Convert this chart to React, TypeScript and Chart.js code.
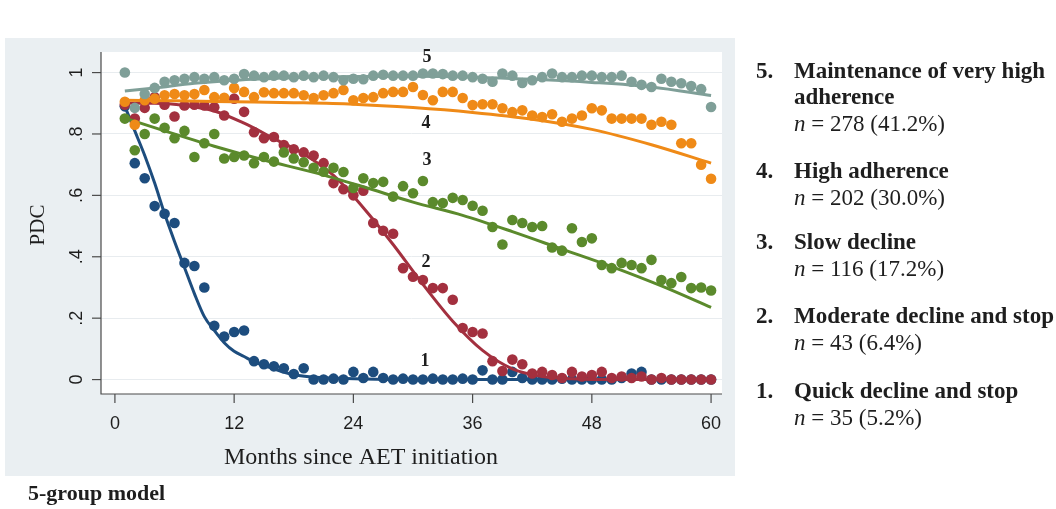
import React, { useEffect, useRef } from "react";
import { Chart, registerables } from "chart.js";

Chart.register(...registerables);

// Months since AET initiation at which the observed mean PDC is plotted
const months = [
  1, 2, 3, 4, 5, 6, 7, 8, 9, 10, 11, 12, 13, 14, 15, 16, 17, 18, 19, 20,
  21, 22, 23, 24, 25, 26, 27, 28, 29, 30, 31, 32, 33, 34, 35, 36, 37, 38, 39, 40,
  41, 42, 43, 44, 45, 46, 47, 48, 49, 50, 51, 52, 53, 54, 55, 56, 57, 58, 59, 60,
];

// Observed monthly PDC per trajectory group
const quickDeclineObs = [
  0.89, 0.705, 0.656, 0.565, 0.54, 0.51, 0.38, 0.37, 0.3, 0.175, 0.14, 0.155, 0.16, 0.06, 0.05, 0.043, 0.037, 0.018, 0.037, 0.0,
  0.0, 0.003, 0.0, 0.025, 0.005, 0.025, 0.005, 0.0, 0.003, 0.0, 0.0, 0.003, 0.0, 0.0, 0.003, 0.0, 0.03, 0.0, 0.0, 0.025,
  0.005, 0.0, 0.0, 0.0, 0.003, 0.0, 0.0, 0.0, 0.0, 0.0, 0.005, 0.02, 0.025, 0.0, 0.0, 0.0, 0.0, 0.0, 0.0, 0.0,
];
const moderateDeclineObs = [
  0.895, 0.85, 0.885, 0.92, 0.895, 0.857, 0.893, 0.895, 0.893, 0.887, 0.86, 0.915, 0.872, 0.806, 0.786, 0.79, 0.764, 0.75, 0.74, 0.73,
  0.705, 0.64, 0.62, 0.6, 0.615, 0.51, 0.485, 0.475, 0.363, 0.335, 0.324, 0.298, 0.298, 0.26, 0.168, 0.155, 0.15, 0.06, 0.028, 0.065,
  0.05, 0.02, 0.025, 0.015, 0.005, 0.025, 0.01, 0.015, 0.025, 0.005, 0.01, 0.005, 0.01, 0.0, 0.005, 0.0, 0.0, 0.0, 0.0, 0.0,
];
const slowDeclineObs = [
  0.85, 0.747, 0.8, 0.85, 0.82, 0.786, 0.81, 0.725, 0.77, 0.8, 0.72, 0.725, 0.73, 0.705, 0.725, 0.71, 0.74, 0.72, 0.708, 0.69,
  0.677, 0.69, 0.676, 0.624, 0.656, 0.64, 0.644, 0.596, 0.63, 0.607, 0.647, 0.578, 0.575, 0.592, 0.585, 0.566, 0.55, 0.497, 0.44, 0.52,
  0.51, 0.497, 0.5, 0.43, 0.42, 0.493, 0.448, 0.46, 0.373, 0.363, 0.38, 0.373, 0.363, 0.39, 0.324, 0.314, 0.334, 0.298, 0.3, 0.29,
];
const highObs = [
  0.905, 0.83, 0.91, 0.915, 0.926, 0.93, 0.926, 0.93, 0.943, 0.92, 0.918, 0.95, 0.937, 0.92, 0.936, 0.933, 0.933, 0.933, 0.926, 0.917,
  0.926, 0.933, 0.943, 0.91, 0.917, 0.92, 0.933, 0.937, 0.937, 0.953, 0.927, 0.91, 0.937, 0.937, 0.917, 0.894, 0.897, 0.897, 0.884, 0.871,
  0.877, 0.86, 0.855, 0.864, 0.84, 0.85, 0.86, 0.884, 0.877, 0.85, 0.85, 0.85, 0.85, 0.83, 0.84, 0.83, 0.77, 0.77, 0.7, 0.654,
];
const veryHighObs = [
  1.0, 0.885, 0.93, 0.95, 0.97, 0.975, 0.98, 0.985, 0.98, 0.985, 0.975, 0.98, 0.995, 0.99, 0.985, 0.99, 0.99, 0.985, 0.99, 0.985,
  0.99, 0.985, 0.975, 0.98, 0.978, 0.99, 0.993, 0.99, 0.99, 0.99, 0.997, 0.997, 0.995, 0.99, 0.99, 0.985, 0.98, 0.97, 0.997, 0.99,
  0.966, 0.975, 0.985, 0.997, 0.985, 0.985, 0.99, 0.99, 0.985, 0.985, 0.99, 0.97, 0.96, 0.953, 0.98, 0.97, 0.965, 0.956, 0.946, 0.888,
];

// Fitted trajectories (month, predicted PDC)
const quickDeclineFitMonths = [1, 2, 3, 4, 5, 6, 7, 8, 9, 10, 11, 12, 13, 14, 16, 18, 21, 25, 30, 60];
const quickDeclineFit = [0.89, 0.81, 0.73, 0.64, 0.54, 0.45, 0.365, 0.28, 0.205, 0.16, 0.12, 0.092, 0.075, 0.058, 0.035, 0.016, 0.006, 0.002, 0.0, 0.0];
const moderateDeclineFitMonths = [1, 4, 7, 10, 13, 16, 19, 22, 25, 28, 31, 34, 37, 40, 43, 46, 50, 60];
const moderateDeclineFit = [0.9, 0.9, 0.893, 0.875, 0.835, 0.785, 0.735, 0.665, 0.56, 0.44, 0.31, 0.19, 0.095, 0.035, 0.01, 0.003, 0.0, 0.0];
const slowDeclineFitMonths = [1, 5, 10, 15, 20, 25, 30, 35, 40, 45, 50, 55, 60];
const slowDeclineFit = [0.852, 0.81, 0.76, 0.715, 0.675, 0.628, 0.578, 0.535, 0.482, 0.425, 0.368, 0.305, 0.235];
const highFitMonths = [1, 6, 12, 18, 24, 30, 36, 42, 48, 54, 60];
const highFit = [0.91, 0.908, 0.905, 0.902, 0.897, 0.886, 0.87, 0.848, 0.815, 0.765, 0.705];
const veryHighFitMonths = [1, 4, 8, 12, 18, 24, 30, 36, 42, 48, 54, 60];
const veryHighFit = [0.94, 0.95, 0.965, 0.975, 0.983, 0.987, 0.988, 0.985, 0.978, 0.968, 0.953, 0.925];

// Axis ticks
const xTicks = [0, 12, 24, 36, 48, 60];
const yTicks = [0, 0.2, 0.4, 0.6, 0.8, 1];
const yTickLabels = ["0", ".2", ".4", ".6", ".8", "1"];

// Group numbers placed next to the curves
const curveLabels = ["5", "4", "3", "2", "1"];
const curveLabelMonths = [31.4, 31.3, 31.4, 31.3, 31.2];
const curveLabelValues = [1.05, 0.835, 0.715, 0.383, 0.06];

// Legend text
const groupNumbers = ["5.", "4.", "3.", "2.", "1."];
const groupNames = [
  ["Maintenance of very high", "adherence"],
  ["High adherence"],
  ["Slow decline"],
  ["Moderate decline and stop"],
  ["Quick decline and stop"],
];
const groupCounts = ["= 278 (41.2%)", "= 202 (30.0%)", "= 116 (17.2%)", "= 43 (6.4%)", "= 35 (5.2%)"];

const W = 1056;
const H = 509;
const SERIF = '"Liberation Serif", "Times New Roman", serif';
const SANS = '"Liberation Sans", Arial, sans-serif';
const INK = "#1e1e1e";
const COLORS = {
  quick: "#1d4d7e",
  moderate: "#a3303f",
  slow: "#5b8a2c",
  high: "#ef8a17",
  veryHigh: "#7f9f98",
};

const pairs = (xs: number[], ys: number[]) => xs.map((x, i) => ({ x, y: ys[i] }));

const decorations = {
  id: "decorations",
  beforeDraw(chart: any) {
    const { ctx, chartArea } = chart;
    ctx.save();
    ctx.fillStyle = "#ffffff";
    ctx.fillRect(0, 0, W, H);
    ctx.fillStyle = "#eaeff2";
    ctx.fillRect(5, 38, 730, 438);
    ctx.fillStyle = "#ffffff";
    ctx.fillRect(chartArea.left, chartArea.top, chartArea.right - chartArea.left, chartArea.bottom - chartArea.top);
    ctx.restore();
  },
  afterDraw(chart: any) {
    const { ctx, chartArea, scales } = chart;
    const xs = scales.x;
    const ys = scales.y;
    ctx.save();

    // axis lines
    ctx.strokeStyle = "#4a4a4a";
    ctx.lineWidth = 1.2;
    ctx.beginPath();
    ctx.moveTo(chartArea.left, chartArea.top);
    ctx.lineTo(chartArea.left, chartArea.bottom);
    ctx.lineTo(chartArea.right, chartArea.bottom);
    ctx.stroke();

    // y ticks and rotated labels
    ctx.fillStyle = INK;
    ctx.font = `18px ${SANS}`;
    ctx.textAlign = "center";
    ctx.textBaseline = "middle";
    yTicks.forEach((v, i) => {
      const py = ys.getPixelForValue(v);
      ctx.beginPath();
      ctx.moveTo(chartArea.left - 9, py);
      ctx.lineTo(chartArea.left, py);
      ctx.stroke();
      ctx.save();
      ctx.translate(77, py);
      ctx.rotate(-Math.PI / 2);
      ctx.fillText(yTickLabels[i], 0, 0);
      ctx.restore();
    });

    // x ticks and labels
    xTicks.forEach((v) => {
      const px = xs.getPixelForValue(v);
      ctx.beginPath();
      ctx.moveTo(px, chartArea.bottom);
      ctx.lineTo(px, chartArea.bottom + 9);
      ctx.stroke();
      ctx.fillText(String(v), px, 424);
    });

    // axis titles
    ctx.font = `24px ${SERIF}`;
    ctx.fillText("Months since AET initiation", 361, 458);
    ctx.save();
    ctx.translate(38, 225);
    ctx.rotate(-Math.PI / 2);
    ctx.font = `21px ${SERIF}`;
    ctx.fillText("PDC", 0, 0);
    ctx.restore();

    // group numbers on the curves
    ctx.font = `bold 18px ${SERIF}`;
    curveLabels.forEach((t, i) => {
      ctx.fillText(t, xs.getPixelForValue(curveLabelMonths[i]), ys.getPixelForValue(curveLabelValues[i]));
    });

    // legend
    ctx.textAlign = "left";
    const numX = 756;
    const textX = 794;
    const lineGap = 26.5;
    const entryTops = [72, 172, 243, 317, 392];
    groupNumbers.forEach((num, i) => {
      let y = entryTops[i];
      ctx.font = `bold 23px ${SERIF}`;
      ctx.fillText(num, numX, y);
      groupNames[i].forEach((line) => {
        ctx.fillText(line, textX, y);
        y += lineGap;
      });
      ctx.font = `italic 23px ${SERIF}`;
      ctx.fillText("n", textX, y);
      const nW = ctx.measureText("n ").width;
      ctx.font = `23px ${SERIF}`;
      ctx.fillText(groupCounts[i], textX + nW, y);
    });

    // panel caption
    ctx.font = `bold 22px ${SERIF}`;
    ctx.fillText("5-group model", 28, 494);
    ctx.restore();
  },
};

function observed(values: number[], color: string) {
  return {
    data: pairs(months, values),
    showLine: false,
    pointRadius: 5.3,
    pointHoverRadius: 5.3,
    pointBorderWidth: 0,
    backgroundColor: color,
    borderColor: color,
  };
}

function fitted(ms: number[], values: number[], color: string) {
  return {
    data: pairs(ms, values),
    showLine: true,
    pointRadius: 0,
    borderWidth: 3,
    borderColor: color,
    backgroundColor: color,
    cubicInterpolationMode: "monotone" as const,
    fill: false,
  };
}

export default function App() {
  const canvasRef = useRef<HTMLCanvasElement | null>(null);

  useEffect(() => {
    const canvas = canvasRef.current;
    if (!canvas) return;
    const chart = new Chart(canvas, {
      type: "scatter",
      data: {
        datasets: [
          fitted(veryHighFitMonths, veryHighFit, COLORS.veryHigh),
          observed(veryHighObs, COLORS.veryHigh),
          fitted(highFitMonths, highFit, COLORS.high),
          observed(highObs, COLORS.high),
          fitted(slowDeclineFitMonths, slowDeclineFit, COLORS.slow),
          observed(slowDeclineObs, COLORS.slow),
          fitted(moderateDeclineFitMonths, moderateDeclineFit, COLORS.moderate),
          observed(moderateDeclineObs, COLORS.moderate),
          fitted(quickDeclineFitMonths, quickDeclineFit, COLORS.quick),
          observed(quickDeclineObs, COLORS.quick),
        ] as any,
      },
      options: {
        responsive: false,
        animation: false,
        devicePixelRatio: 1,
        layout: { padding: { left: 0, top: 52, right: 334, bottom: 0 } },
        plugins: {
          legend: { display: false },
          tooltip: { enabled: false },
          title: { display: false },
        },
        events: [],
        scales: {
          x: {
            type: "linear",
            min: -1.4,
            max: 61.1,
            afterBuildTicks: (s: any) => {
              s.ticks = xTicks.map((value) => ({ value }));
            },
            afterFit: (s: any) => {
              s.height = 115;
            },
            ticks: { display: false },
            grid: { display: false },
            border: { display: false },
          },
          y: {
            type: "linear",
            min: -0.047,
            max: 1.067,
            afterBuildTicks: (s: any) => {
              s.ticks = yTicks.map((value) => ({ value }));
            },
            afterFit: (s: any) => {
              s.width = 101;
            },
            ticks: { display: false },
            grid: { color: "#e8ecef", lineWidth: 1, drawTicks: false },
            border: { display: false },
          },
        },
      } as any,
      plugins: [decorations],
    });
    return () => chart.destroy();
  }, []);

  return (
    <div style={{ position: "fixed", left: 0, top: 0, width: W, height: H, background: "#fff" }}>
      <canvas ref={canvasRef} width={W} height={H} style={{ width: W, height: H, display: "block" }} />
    </div>
  );
}
